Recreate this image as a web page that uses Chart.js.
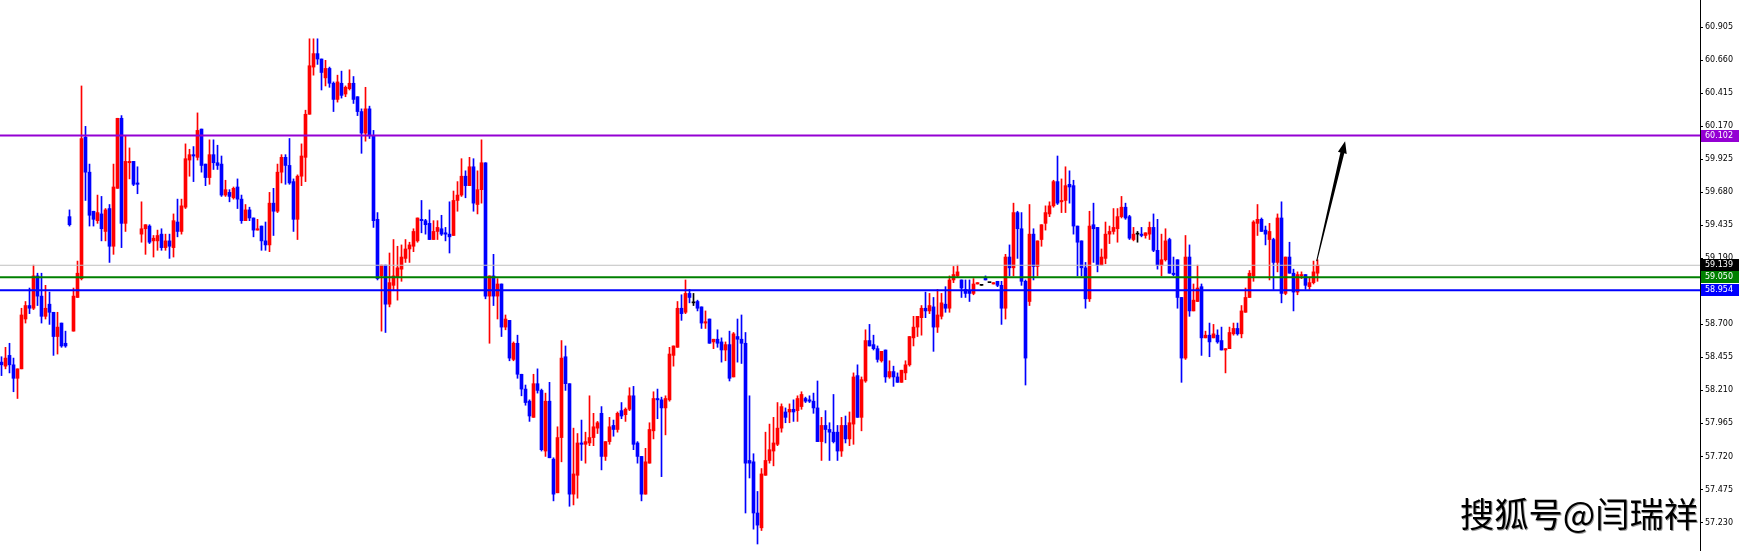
<!DOCTYPE html>
<html>
<head>
<meta charset="utf-8">
<script src="https://cdn.jsdelivr.net/npm/chart.js@4.4.1/dist/chart.umd.min.js"></script>
<style>
  html, body { margin: 0; padding: 0; background: #fff; }
  canvas { display: block; }
</style>
</head>
<body>
<canvas id="priceChart" width="1742" height="551"></canvas>
<script>
// candle values, one per bar, left to right
const opens = [
  58.42, 58.39, 58.47, 58.40, 58.30, 58.37, 58.74, 58.84, 58.82, 59.06,
  58.91, 58.76, 58.85, 58.79, 58.61, 58.71, 58.56, 59.50, 58.65, 58.90,
  59.04, 60.09, 59.83, 59.54, 59.47, 59.52, 59.39, 59.56, 59.28, 59.71,
  60.23, 59.45, 59.90, 59.91, 59.75, 59.37, 59.41, 59.43, 59.32, 59.32,
  59.37, 59.27, 59.32, 59.27, 59.46, 59.39, 59.57, 59.92, 59.96, 59.94,
  60.15, 59.89, 59.79, 59.96, 59.90, 59.89, 59.66, 59.68, 59.64, 59.72,
  59.63, 59.47, 59.55, 59.49, 59.40, 59.43, 59.32, 59.29, 59.60, 59.54,
  59.83, 59.94, 59.88, 59.76, 59.48, 59.80, 59.94, 60.26, 60.61, 60.71,
  60.67, 60.53, 60.60, 60.49, 60.37, 60.49, 60.41, 60.45, 60.49, 60.39,
  60.28, 60.12, 60.30, 60.10, 59.48, 59.06, 59.14, 58.85, 58.99, 59.05,
  59.11, 59.19, 59.26, 59.28, 59.32, 59.48, 59.47, 59.45, 59.33, 59.39,
  59.41, 59.38, 59.37, 59.36, 59.62, 59.66, 59.80, 59.73, 59.87, 59.59,
  59.70, 59.90, 58.91, 59.06, 58.91, 59.00, 58.68, 58.73, 58.44, 58.56,
  58.33, 58.22, 58.13, 58.01, 58.26, 58.21, 57.76, 58.13, 57.70, 57.45,
  57.86, 58.46, 58.26, 57.44, 57.58, 57.82, 57.81, 57.82, 57.86, 57.93,
  58.04, 57.72, 57.83, 57.95, 57.92, 58.06, 58.03, 58.07, 58.17, 57.82,
  57.72, 57.44, 57.67, 57.91, 58.15, 58.14, 58.08, 58.14, 58.47, 58.53,
  58.82, 58.79, 58.93, 58.86, 58.87, 58.83, 58.71, 58.74, 58.57, 58.59,
  58.57, 58.51, 58.55, 58.31, 58.61, 58.59, 58.56, 57.69, 57.68, 57.30,
  57.19, 57.58, 57.69, 57.76, 57.81, 57.93, 58.05, 58.05, 58.07, 58.06,
  58.09, 58.15, 58.14, 58.13, 58.08, 57.83, 57.95, 57.92, 57.90, 57.90,
  57.76, 57.95, 57.85, 57.96, 58.32, 58.01, 58.28, 58.58, 58.55, 58.52,
  58.43, 58.51, 58.31, 58.35, 58.31, 58.27, 58.34, 58.40, 58.60, 58.68,
  58.75, 58.82, 58.80, 58.83, 58.68, 58.76, 58.85, 58.82, 59.03, 59.06,
  59.03, 58.96, 58.95, 58.93, 59.00, 58.99, 59.05, 59.01, 59.00, 59.02,
  58.99, 58.82, 59.20, 59.12, 59.53, 59.41, 59.02, 58.87, 59.37, 59.13,
  59.33, 59.45, 59.52, 59.58, 59.76, 59.61, 59.62, 59.74, 59.73, 59.43,
  59.32, 59.12, 58.89, 59.44, 59.42, 59.14, 59.19, 59.37, 59.39, 59.41,
  59.50, 59.57, 59.50, 59.33, 59.37, 59.37, 59.36, 59.37, 59.42, 59.25,
  59.14, 59.18, 59.33, 59.08, 59.18, 58.90, 58.45, 59.20, 58.80, 58.87,
  58.98, 58.60, 58.62, 58.60, 58.62, 58.58, 58.51, 58.52, 58.63, 58.67,
  58.63, 58.79, 58.90, 59.06, 59.45, 59.48, 59.40, 59.33, 59.33, 59.16,
  59.49, 58.93, 59.20, 59.08, 58.94, 59.06, 59.07, 58.98, 59.01, 59.08
];
const highs = [
  58.46, 58.53, 58.56, 58.45, 58.37, 58.82, 58.87, 58.97, 59.14, 59.08,
  59.08, 58.99, 58.94, 58.79, 58.79, 58.71, 58.65, 59.55, 58.97, 59.17,
  60.47, 60.17, 59.89, 59.54, 59.66, 59.65, 59.56, 59.59, 59.89, 60.23,
  60.25, 60.10, 60.01, 59.91, 59.87, 59.61, 59.44, 59.44, 59.36, 59.40,
  59.41, 59.37, 59.37, 59.52, 59.63, 59.63, 60.04, 60.00, 60.02, 60.27,
  60.15, 59.89, 60.07, 60.07, 60.03, 59.95, 59.77, 59.70, 59.72, 59.78,
  59.66, 59.59, 59.57, 59.49, 59.48, 59.43, 59.46, 59.68, 59.71, 59.89,
  59.96, 59.96, 60.08, 59.78, 59.81, 60.04, 60.29, 60.82, 60.82, 60.82,
  60.67, 60.66, 60.61, 60.50, 60.55, 60.58, 60.47, 60.59, 60.54, 60.39,
  60.30, 60.46, 60.32, 60.14, 59.53, 59.14, 59.14, 59.23, 59.33, 59.28,
  59.29, 59.33, 59.31, 59.41, 59.49, 59.62, 59.48, 59.55, 59.47, 59.47,
  59.51, 59.42, 59.61, 59.69, 59.76, 59.93, 59.84, 59.94, 59.93, 59.84,
  60.07, 59.90, 59.06, 59.22, 59.04, 59.00, 58.77, 58.73, 58.57, 58.62,
  58.33, 58.25, 58.14, 58.33, 58.37, 58.22, 58.19, 58.27, 57.71, 57.94,
  58.58, 58.54, 58.26, 57.93, 57.89, 57.99, 57.90, 58.17, 58.04, 57.98,
  58.09, 57.83, 58.01, 57.99, 58.05, 58.12, 58.08, 58.23, 58.24, 57.83,
  57.72, 57.78, 57.97, 58.20, 58.22, 58.16, 58.17, 58.53, 58.54, 58.87,
  58.92, 59.03, 58.96, 58.93, 58.88, 58.83, 58.80, 58.74, 58.59, 58.66,
  58.60, 58.57, 58.65, 58.64, 58.74, 58.77, 58.64, 58.17, 57.74, 57.46,
  57.63, 57.90, 57.96, 58.01, 58.12, 58.11, 58.08, 58.11, 58.14, 58.17,
  58.20, 58.16, 58.17, 58.19, 58.28, 58.01, 58.06, 57.97, 58.18, 57.95,
  58.01, 58.02, 58.05, 58.34, 58.40, 58.31, 58.66, 58.70, 58.62, 58.54,
  58.50, 58.51, 58.43, 58.39, 58.34, 58.36, 58.43, 58.61, 58.76, 58.76,
  58.84, 58.94, 58.93, 58.90, 58.96, 58.93, 58.98, 59.06, 59.13, 59.14,
  59.03, 59.03, 59.03, 59.04, 59.01, 58.99, 59.06, 59.01, 59.01, 59.02,
  59.02, 59.22, 59.29, 59.60, 59.54, 59.53, 59.03, 59.59, 59.41, 59.32,
  59.44, 59.58, 59.61, 59.77, 59.95, 59.78, 59.87, 59.84, 59.77, 59.43,
  59.32, 59.16, 59.54, 59.60, 59.42, 59.26, 59.46, 59.43, 59.56, 59.56,
  59.65, 59.60, 59.51, 59.42, 59.39, 59.42, 59.38, 59.46, 59.52, 59.48,
  59.37, 59.41, 59.34, 59.20, 59.18, 58.90, 59.36, 59.29, 59.00, 59.14,
  59.00, 58.65, 58.71, 58.70, 58.66, 58.68, 58.52, 58.68, 58.71, 58.71,
  58.84, 58.97, 59.10, 59.47, 59.59, 59.49, 59.43, 59.45, 59.34, 59.52,
  59.61, 59.20, 59.31, 59.11, 59.09, 59.09, 59.07, 59.05, 59.17, 59.18
];
const lows = [
  58.32, 58.37, 58.34, 58.20, 58.15, 58.37, 58.71, 58.78, 58.81, 58.84,
  58.71, 58.74, 58.70, 58.47, 58.48, 58.53, 58.53, 59.43, 58.65, 58.90,
  59.03, 59.62, 59.43, 59.43, 59.45, 59.32, 59.32, 59.16, 59.22, 59.71,
  59.27, 59.39, 59.78, 59.73, 59.67, 59.31, 59.22, 59.30, 59.20, 59.25,
  59.25, 59.25, 59.19, 59.20, 59.35, 59.37, 59.56, 59.80, 59.76, 59.92,
  59.83, 59.73, 59.74, 59.85, 59.85, 59.65, 59.65, 59.61, 59.63, 59.56,
  59.45, 59.47, 59.47, 59.35, 59.40, 59.25, 59.25, 59.24, 59.36, 59.53,
  59.75, 59.74, 59.74, 59.39, 59.33, 59.73, 59.76, 60.26, 60.55, 60.63,
  60.44, 60.47, 60.46, 60.28, 60.35, 60.38, 60.39, 60.44, 60.34, 60.25,
  59.97, 60.06, 60.08, 59.42, 59.03, 58.65, 58.64, 58.83, 58.95, 58.88,
  59.02, 59.16, 59.16, 59.24, 59.31, 59.38, 59.37, 59.33, 59.33, 59.33,
  59.36, 59.32, 59.23, 59.36, 59.54, 59.65, 59.64, 59.73, 59.54, 59.52,
  59.60, 58.89, 58.56, 58.84, 58.74, 58.61, 58.66, 58.43, 58.43, 58.30,
  58.17, 58.10, 57.98, 58.01, 58.19, 57.76, 57.72, 57.71, 57.39, 57.45,
  57.68, 58.21, 57.35, 57.36, 57.41, 57.69, 57.67, 57.80, 57.80, 57.89,
  57.62, 57.69, 57.81, 57.87, 57.90, 58.00, 57.98, 58.06, 57.77, 57.67,
  57.39, 57.44, 57.67, 57.85, 58.00, 57.57, 57.88, 58.13, 58.39, 58.53,
  58.73, 58.78, 58.86, 58.84, 58.80, 58.67, 58.67, 58.56, 58.52, 58.53,
  58.42, 58.43, 58.28, 58.31, 58.42, 58.41, 57.30, 57.56, 57.18, 57.07,
  57.17, 57.58, 57.67, 57.65, 57.80, 57.90, 57.97, 57.97, 57.98, 57.98,
  58.07, 58.12, 58.12, 58.04, 57.83, 57.69, 57.82, 57.69, 57.82, 57.69,
  57.72, 57.82, 57.80, 57.81, 58.01, 57.91, 58.27, 58.54, 58.51, 58.42,
  58.42, 58.27, 58.30, 58.24, 58.27, 58.27, 58.29, 58.39, 58.54, 58.61,
  58.62, 58.75, 58.78, 58.50, 58.64, 58.74, 58.79, 58.79, 59.01, 59.05,
  58.90, 58.90, 58.87, 58.92, 59.00, 58.99, 59.03, 59.01, 59.00, 58.98,
  58.70, 58.74, 59.06, 59.06, 59.19, 58.99, 58.25, 58.84, 59.03, 59.06,
  59.28, 59.40, 59.50, 59.57, 59.59, 59.53, 59.53, 59.60, 59.37, 59.06,
  59.06, 58.82, 58.87, 59.16, 59.09, 59.14, 59.15, 59.30, 59.37, 59.31,
  59.49, 59.48, 59.33, 59.32, 59.31, 59.35, 59.34, 59.33, 59.24, 59.11,
  59.06, 59.17, 59.08, 59.06, 58.82, 58.27, 58.44, 58.76, 58.80, 58.87,
  58.47, 58.60, 58.46, 58.60, 58.56, 58.51, 58.34, 58.52, 58.62, 58.62,
  58.60, 58.79, 58.90, 59.02, 59.36, 59.39, 59.29, 59.03, 58.96, 59.09,
  58.86, 58.92, 59.08, 58.80, 58.92, 59.04, 58.96, 58.96, 59.00, 59.02
];
const closes = [
  58.40, 58.45, 58.40, 58.30, 58.37, 58.77, 58.84, 58.82, 59.06, 58.91,
  58.76, 58.82, 58.79, 58.61, 58.68, 58.54, 58.54, 59.44, 58.91, 59.08,
  60.08, 59.83, 59.51, 59.48, 59.53, 59.41, 59.55, 59.28, 59.72, 60.23,
  59.45, 59.91, 59.91, 59.74, 59.74, 59.41, 59.44, 59.31, 59.34, 59.36,
  59.27, 59.32, 59.28, 59.47, 59.39, 59.58, 59.93, 59.96, 59.95, 60.14,
  59.88, 59.79, 59.96, 59.90, 59.88, 59.66, 59.70, 59.65, 59.71, 59.63,
  59.47, 59.55, 59.49, 59.40, 59.41, 59.32, 59.29, 59.60, 59.54, 59.83,
  59.94, 59.88, 59.75, 59.48, 59.80, 59.95, 60.26, 60.62, 60.71, 60.67,
  60.57, 60.60, 60.49, 60.37, 60.50, 60.40, 60.46, 60.49, 60.37, 60.28,
  60.12, 60.30, 60.10, 59.47, 59.04, 59.14, 58.85, 59.01, 59.06, 59.12,
  59.20, 59.26, 59.29, 59.39, 59.49, 59.47, 59.44, 59.33, 59.39, 59.42,
  59.37, 59.37, 59.35, 59.62, 59.66, 59.80, 59.73, 59.87, 59.60, 59.70,
  59.90, 58.91, 59.06, 58.91, 59.00, 58.68, 58.74, 58.45, 58.56, 58.33,
  58.22, 58.12, 58.02, 58.26, 58.21, 57.77, 58.13, 57.71, 57.44, 57.86,
  58.45, 58.26, 57.44, 57.59, 57.82, 57.81, 57.83, 57.86, 57.94, 57.97,
  57.72, 57.83, 57.94, 57.92, 58.04, 58.02, 58.07, 58.17, 57.81, 57.72,
  57.44, 57.68, 57.92, 58.15, 58.14, 58.08, 58.15, 58.48, 58.54, 58.82,
  58.78, 58.93, 58.90, 58.86, 58.82, 58.71, 58.72, 58.56, 58.59, 58.56,
  58.51, 58.55, 58.30, 58.63, 58.59, 58.56, 57.67, 57.67, 57.30, 57.21,
  57.59, 57.69, 57.77, 57.82, 57.93, 58.09, 58.01, 58.07, 58.05, 58.15,
  58.18, 58.13, 58.13, 58.08, 57.83, 57.95, 57.92, 57.90, 57.83, 57.76,
  57.95, 57.85, 57.97, 58.31, 58.01, 58.29, 58.58, 58.54, 58.52, 58.44,
  58.50, 58.31, 58.35, 58.31, 58.27, 58.36, 58.40, 58.61, 58.68, 58.76,
  58.82, 58.80, 58.84, 58.68, 58.77, 58.86, 58.82, 59.03, 59.07, 59.09,
  58.97, 58.93, 58.93, 59.00, 59.01, 58.99, 59.03, 59.01, 59.01, 58.99,
  58.82, 59.20, 59.12, 59.53, 59.41, 59.02, 58.45, 59.37, 59.13, 59.32,
  59.44, 59.53, 59.58, 59.76, 59.60, 59.62, 59.73, 59.72, 59.43, 59.31,
  59.12, 58.89, 59.43, 59.41, 59.14, 59.20, 59.37, 59.39, 59.42, 59.50,
  59.57, 59.49, 59.34, 59.37, 59.37, 59.36, 59.38, 59.42, 59.25, 59.14,
  59.18, 59.32, 59.08, 59.07, 58.90, 58.45, 59.20, 58.80, 58.88, 58.97,
  58.60, 58.62, 58.57, 58.63, 58.57, 58.51, 58.52, 58.64, 58.67, 58.63,
  58.80, 58.90, 59.08, 59.46, 59.48, 59.39, 59.37, 59.39, 59.16, 59.49,
  58.93, 59.20, 59.08, 58.94, 59.07, 59.07, 58.99, 59.01, 59.09, 59.14
];

// right axis tick labels
const yTicks = [60.905, 60.660, 60.415, 60.170, 59.925, 59.680, 59.435, 59.190,
                58.945, 58.700, 58.455, 58.210, 57.965, 57.720, 57.475, 57.230];

// horizontal levels: resistance, current price, support 1, support 2
const levels = [60.102, 59.139, 59.050, 58.954];
const lineColors = ['#9400d3', '#c0c0c0', '#008000', '#0000ff'];
const lineWidths = [2, 1, 2, 2];
const tagColors = ['#9400d3', '#000000', '#008000', '#0000ff'];

// hand drawn arrow (bar index, price)
const arrowFrom = [328.8, 59.17];
const arrowTo = [335.9, 60.06];

const watermark = '搜狐号@闫瑞祥';

const X_MIN = -0.375, X_MAX = 424.625;
const Y_MIN = 57.018, Y_MAX = 61.108;

function candleColor(i) {
  if (closes[i] > opens[i]) return '#ff0000';
  if (closes[i] < opens[i]) return '#0000ff';
  return '#000000';
}

const wickData = lows.map((l, i) => ({ x: i, y: [l, highs[i]] }));
const bodyData = opens.map((o, i) => ({ x: i, y: [Math.min(o, closes[i]), Math.max(o, closes[i])] }));

const levelSets = levels.map((v, i) => ({
  type: 'line',
  data: [{ x: X_MIN, y: v }, { x: X_MAX, y: v }],
  borderColor: lineColors[i],
  borderWidth: lineWidths[i],
  pointRadius: 0,
  order: 0
}));

const overlay = {
  id: 'overlay',
  afterDraw(chart) {
    const { ctx, scales: { x, y } } = chart;
    ctx.save();

    // arrow: tapered shaft + head
    const x0 = x.getPixelForValue(arrowFrom[0]), y0 = y.getPixelForValue(arrowFrom[1]);
    const x1 = x.getPixelForValue(arrowTo[0]), y1 = y.getPixelForValue(arrowTo[1]);
    const len = Math.hypot(x1 - x0, y1 - y0);
    const ux = (x1 - x0) / len, uy = (y1 - y0) / len;
    const nx = -uy, ny = ux;
    const bx = x1 - ux * 12, by = y1 - uy * 12;
    ctx.fillStyle = '#000';
    ctx.beginPath();
    ctx.moveTo(x0 + nx * 0.5, y0 + ny * 0.5);
    ctx.lineTo(bx + nx * 2, by + ny * 2);
    ctx.lineTo(bx + nx * 4.5, by + ny * 4.5);
    ctx.lineTo(x1, y1);
    ctx.lineTo(bx - nx * 4.5, by - ny * 4.5);
    ctx.lineTo(bx - nx * 2, by - ny * 2);
    ctx.lineTo(x0 - nx * 0.5, y0 - ny * 0.5);
    ctx.closePath();
    ctx.fill();

    // price tags on the axis
    ctx.font = '8px "DejaVu Sans"';
    ctx.textBaseline = 'middle';
    ctx.textAlign = 'left';
    levels.forEach((v, i) => {
      const py = Math.round(y.getPixelForValue(v));
      ctx.fillStyle = tagColors[i];
      ctx.fillRect(y.left + 1, py - 6, 38, 12);
      ctx.fillStyle = '#ffffff';
      ctx.fillText(v.toFixed(3), y.left + 5, py);
    });

    // watermark
    let size = 34;
    ctx.font = size + 'px "Noto Sans CJK SC"';
    size = size * 238 / ctx.measureText(watermark).width;
    ctx.font = size + 'px "Noto Sans CJK SC"';
    ctx.textAlign = 'right';
    ctx.textBaseline = 'middle';
    ctx.fillStyle = '#999';
    ctx.fillText(watermark, 1699, 515);
    ctx.fillStyle = '#000';
    ctx.fillText(watermark, 1698, 514);
    ctx.restore();
  }
};

const ctx = document.getElementById('priceChart').getContext('2d');

const priceChart = new Chart(ctx, {
  type: 'bar',
  data: {
    datasets: [
      {
        label: 'wicks',
        data: wickData,
        backgroundColor: c => candleColor(c.dataIndex),
        barThickness: 1,
        grouped: false,
        borderWidth: 0,
        order: 2
      },
      {
        label: 'bodies',
        data: bodyData,
        backgroundColor: c => candleColor(c.dataIndex),
        barThickness: 3,
        minBarLength: 1,
        grouped: false,
        borderWidth: 0,
        order: 1
      },
      ...levelSets
    ]
  },
  plugins: [overlay],
  options: {
    responsive: false,
    devicePixelRatio: 1,
    animation: false,
    layout: { padding: 0 },
    plugins: {
      legend: { display: false },
      tooltip: { enabled: false }
    },
    scales: {
      x: {
        type: 'linear',
        min: X_MIN,
        max: X_MAX,
        offset: false,
        display: false
      },
      y: {
        position: 'right',
        min: Y_MIN,
        max: Y_MAX,
        afterBuildTicks: axis => {
          axis.ticks = yTicks.map(v => ({ value: v }));
        },
        afterFit: axis => {
          axis.width = 42;
          axis.paddingTop = 0;
          axis.paddingBottom = 0;
        },
        border: { display: true, color: '#000', width: 1 },
        grid: {
          drawOnChartArea: false,
          drawTicks: true,
          tickLength: 3,
          color: '#000'
        },
        ticks: {
          autoSkip: false,
          padding: 2,
          color: '#000',
          font: { family: 'DejaVu Sans', size: 8 },
          callback: v => v.toFixed(3)
        }
      }
    }
  }
});
</script>
</body>
</html>
